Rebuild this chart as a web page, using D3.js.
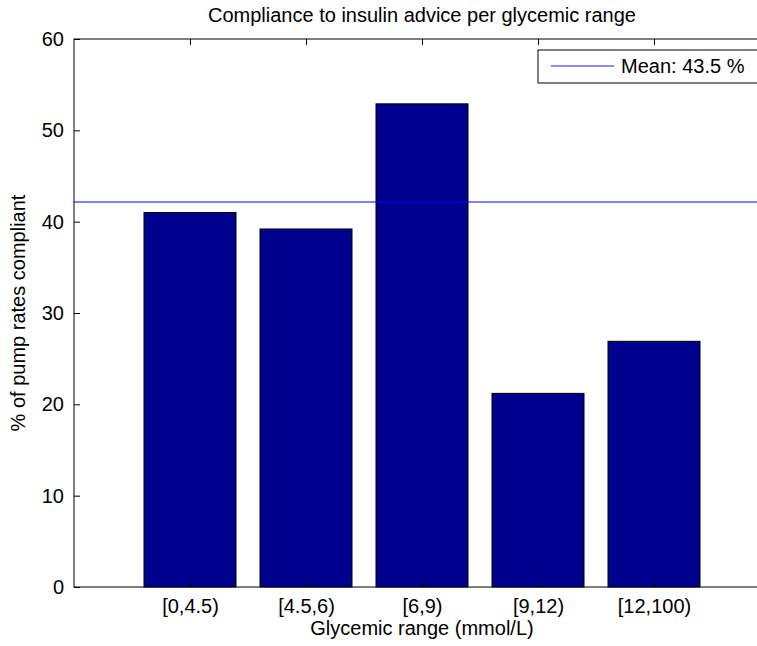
<!DOCTYPE html>
<html><head><meta charset="utf-8">
<script src="https://cdn.jsdelivr.net/npm/d3@7"></script>
<style>body{margin:0;background:#fff;} text{font-family:"Liberation Sans",Arial,sans-serif;}</style>
</head><body>
<script>
// chart data
var categories = ["[0,4.5)", "[4.5,6)", "[6,9)", "[9,12)", "[12,100)"];
var values = [41.0, 39.2, 52.9, 21.2, 26.9];
var meanValue = 42.15;
var meanLabel = "Mean: 43.5 %";
var yTicks = [0, 10, 20, 30, 40, 50, 60];

var w = 757, h = 646;
var plotLeft = 74, plotTop = 39, plotBottom = 587, plotWidth = 696;
var fs = "20px";

var svg = d3.select("body").append("svg")
    .attr("width", w).attr("height", h);

var x = d3.scaleLinear().domain([0, 6]).range([plotLeft, plotLeft + plotWidth]);
var y = d3.scaleLinear().domain([0, 60]).range([plotBottom, plotTop]);

// axes box
svg.append("rect")
    .attr("x", plotLeft).attr("y", plotTop)
    .attr("width", plotWidth).attr("height", plotBottom - plotTop)
    .style("fill", "none").style("stroke", "#000").style("stroke-width", 1);

// bars
svg.selectAll(".bar")
    .data(values)
    .enter().append("rect")
    .attr("class", "bar")
    .attr("x", function (d, i) { return x(i + 1) - 46; })
    .attr("width", 92)
    .attr("y", function (d) { return y(d); })
    .attr("height", function (d) { return y(0) - y(d); })
    .style("fill", "#00008f")
    .style("stroke", "#000");

function styleText(g) {
    g.select(".domain").remove();
    g.selectAll("text").style("font-size", fs).style("font-family", "Liberation Sans, Arial").style("fill", "#000");
}

// left axis
svg.append("g")
    .attr("transform", "translate(" + plotLeft + ",0)")
    .call(d3.axisLeft(y).tickValues(yTicks).tickSizeInner(-6).tickSizeOuter(0).tickPadding(10))
    .call(styleText);

// bottom axis
svg.append("g")
    .attr("transform", "translate(0," + plotBottom + ")")
    .call(d3.axisBottom(x).tickValues([1, 2, 3, 4, 5])
        .tickFormat(function (d) { return categories[d - 1]; })
        .tickSizeInner(-6).tickSizeOuter(0).tickPadding(12))
    .call(styleText);

// top ticks
svg.append("g")
    .attr("transform", "translate(0," + plotTop + ")")
    .call(d3.axisTop(x).tickValues([1, 2, 3, 4, 5]).tickSizeInner(-6).tickSizeOuter(0).tickFormat(""))
    .call(styleText);

// right ticks
svg.append("g")
    .attr("transform", "translate(" + (plotLeft + plotWidth) + ",0)")
    .call(d3.axisRight(y).tickValues(yTicks).tickSizeInner(-6).tickSizeOuter(0).tickFormat(""))
    .call(styleText);

// mean line
svg.append("line")
    .attr("x1", plotLeft).attr("x2", plotLeft + plotWidth)
    .attr("y1", y(meanValue)).attr("y2", y(meanValue))
    .style("stroke", "#0000ff").style("stroke-width", 1);

// legend
svg.append("rect")
    .attr("x", 538).attr("y", 50).attr("width", 240).attr("height", 33)
    .style("fill", "#fff").style("stroke", "#000");
svg.append("line")
    .attr("x1", 551).attr("x2", 614).attr("y1", 66).attr("y2", 66)
    .style("stroke", "#6666ff").style("stroke-width", 1.5);
svg.append("text")
    .attr("x", 621).attr("y", 73)
    .style("font-size", fs)
    .text(meanLabel);

// title and labels
svg.append("text")
    .attr("x", 422).attr("y", 22)
    .attr("text-anchor", "middle")
    .style("font-size", fs)
    .text("Compliance to insulin advice per glycemic range");
svg.append("text")
    .attr("x", 422).attr("y", 635)
    .attr("text-anchor", "middle")
    .style("font-size", fs)
    .text("Glycemic range (mmol/L)");
svg.append("text")
    .attr("transform", "translate(25," + ((plotTop + plotBottom) / 2) + ") rotate(-90)")
    .attr("text-anchor", "middle")
    .style("font-size", fs)
    .text("% of pump rates compliant");
</script>
</body></html>
